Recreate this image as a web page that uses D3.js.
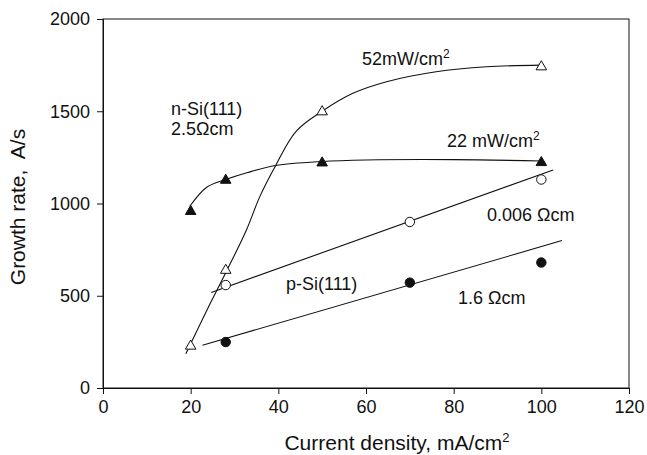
<!DOCTYPE html>
<html lang="en">
<head>
    <meta charset="UTF-8">
    <title>Growth rate vs current density</title>
    <script src="https://d3js.org/d3.v7.min.js"></script>
    <style>
        body {
            margin: 0;
            background-color: #fff;
        }
        text {
            font-family: "Liberation Sans", Arial, sans-serif;
            fill: #111;
        }
        .axis path, .axis line {
            stroke: #111;
        }
        .trend {
            fill: none;
            stroke: #111;
            stroke-width: 1.1px;
        }
    </style>
</head>
<body>
    <div id="chart"></div>

    <script>
    // Axis ticks
    const xTicks = [0, 20, 40, 60, 80, 100, 120];
    const yTicks = [0, 500, 1000, 1500, 2000];

    // n-Si(111), 52 mW/cm2 (open triangles)
    const xOpenTri = [20, 28, 50, 100];
    const yOpenTri = [227, 638, 1497, 1741];
    // n-Si(111), 22 mW/cm2 (filled triangles)
    const xFillTri = [20, 28, 50, 100];
    const yFillTri = [957, 1126, 1220, 1222];
    // p-Si(111), 0.006 Ohm cm (open circles)
    const xOpenCirc = [28, 70, 100];
    const yOpenCirc = [558, 900, 1130];
    // p-Si(111), 1.6 Ohm cm (filled circles)
    const xFillCirc = [28, 70, 100];
    const yFillCirc = [249, 571, 680];

    // hand drawn trend curves
    const trend52x = [18.9, 24.7, 28, 32.7, 35.75, 39.4, 44, 50, 57, 64.7, 76, 87.5, 100];
    const trend52y = [186, 470, 625, 855, 1036, 1206, 1390, 1500, 1597, 1660, 1714, 1741, 1750];
    const trend22x = [19.8, 23.6, 28, 33, 39.4, 50, 60, 80, 100];
    const trend22y = [985, 1087, 1130, 1168, 1206, 1228, 1236, 1238, 1230];
    const fitOpenX = [24.7, 102.7];
    const fitOpenY = [518, 1182];
    const fitFillX = [22.7, 104.7];
    const fitFillY = [232, 799];

    const margin = {top: 19, right: 18, bottom: 67, left: 103},
          width = 647 - margin.left - margin.right,
          height = 455 - margin.top - margin.bottom;

    const svg = d3.select("#chart").append("svg")
        .attr("width", 647)
        .attr("height", 455)
        .append("g")
        .attr("transform", "translate(" + margin.left + "," + margin.top + ")");

    const x = d3.scaleLinear().domain([0, 120]).range([0, width]);
    const y = d3.scaleLinear().domain([0, 2000]).range([height, 0]);

    // frame
    svg.append("rect")
        .attr("width", width)
        .attr("height", height)
        .attr("fill", "none")
        .attr("stroke", "#111");

    // axes
    svg.append("g")
        .attr("class", "axis")
        .attr("transform", `translate(0,${height})`)
        .call(d3.axisBottom(x).tickValues(xTicks).tickSize(6).tickPadding(6))
        .call(g => g.selectAll("text").style("font-size", "18px"));

    svg.append("g")
        .attr("class", "axis")
        .call(d3.axisLeft(y).tickValues(yTicks).tickFormat(d3.format("d")).tickSize(6).tickPadding(7))
        .call(g => g.selectAll("text").style("font-size", "18px"));

    // trend lines
    const zip = (xs, ys) => xs.map((v, i) => [v, ys[i]]);
    const line = d3.line().x(d => x(d[0])).y(d => y(d[1]));
    const curve = d3.line().x(d => x(d[0])).y(d => y(d[1])).curve(d3.curveCatmullRom.alpha(0.5));

    svg.append("path").attr("class", "trend").attr("d", curve(zip(trend52x, trend52y)));
    svg.append("path").attr("class", "trend").attr("d", curve(zip(trend22x, trend22y)));
    svg.append("path").attr("class", "trend").attr("d", line(zip(fitOpenX, fitOpenY)));
    svg.append("path").attr("class", "trend").attr("d", line(zip(fitFillX, fitFillY)));

    // markers
    const tri = d3.symbol().type(d3.symbolTriangle).size(48);
    const circ = d3.symbol().type(d3.symbolCircle).size(70);

    function markers(xs, ys, sym, fill) {
        svg.append("g").selectAll("path")
            .data(zip(xs, ys))
            .join("path")
            .attr("d", sym)
            .attr("transform", d => `translate(${x(d[0])},${y(d[1])})`)
            .attr("fill", fill)
            .attr("stroke", "#111")
            .attr("stroke-width", 1);
    }
    markers(xOpenTri, yOpenTri, tri, "#fff");
    markers(xFillTri, yFillTri, tri, "#111");
    markers(xOpenCirc, yOpenCirc, circ, "#fff");
    markers(xFillCirc, yFillCirc, circ, "#111");

    // annotations
    function label(px, py, txt, sup) {
        const t = svg.append("text")
            .attr("x", px - margin.left)
            .attr("y", py - margin.top)
            .style("font-size", "18px")
            .text(txt);
        if (sup) {
            t.append("tspan")
                .attr("dy", -7)
                .style("font-size", "12px")
                .text(sup);
        }
    }
    label(362, 65, "52mW/cm", "2");
    label(447, 147, "22 mW/cm", "2");
    label(171, 115, "n-Si(111)");
    label(171, 135, "2.5\u03A9cm");
    label(487, 221, "0.006 \u03A9cm");
    label(286, 290, "p-Si(111)");
    label(458, 304, "1.6 \u03A9cm");

    // axis titles
    const xt = svg.append("text")
        .attr("x", 397 - margin.left)
        .attr("y", 450 - margin.top)
        .attr("text-anchor", "middle")
        .style("font-size", "21px")
        .text("Current density, mA/cm");
    xt.append("tspan").attr("dy", -8).style("font-size", "13px").text("2");

    svg.append("text")
        .attr("transform", `translate(${25 - margin.left},${207 - margin.top}) rotate(-90)`)
        .attr("text-anchor", "middle")
        .style("font-size", "21px")
        .style("white-space", "pre")
        .text("Growth rate,  A/s");
    </script>
</body>
</html>
